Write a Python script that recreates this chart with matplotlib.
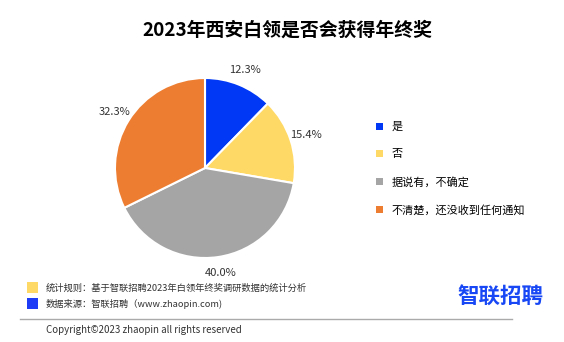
import matplotlib
matplotlib.use("Agg")
import matplotlib.pyplot as plt
from matplotlib.patches import Patch, Rectangle
from matplotlib.lines import Line2D

plt.rcParams['font.family'] = ['Noto Sans CJK SC', 'DejaVu Sans']

# data
categories = ['是', '否', '据说有，不确定', '不清楚，还没收到任何通知']
shares = [12.3, 15.4, 40.0, 32.3]
colors = ['#0038F5', '#FFD966', '#A5A5A5', '#ED7D31']
title = '2023年西安白领是否会获得年终奖'
note_rule = '统计规则：基于智联招聘2023年白领年终奖调研数据的统计分析'
note_src = '数据来源：智联招聘（www.zhaopin.com)'
copyright_txt = 'Copyright©2023 zhaopin all rights reserved'

W, H = 564, 342
fig = plt.figure(figsize=(W / 100, H / 100), dpi=100)

def fx(px):
    return px / W

def fy(py):
    return 1 - py / H

# pie: centre ~ (205,168), radius ~ 90 px
r = 90
ax = fig.add_axes([fx(205 - r), fy(168 + r), 2 * r / W, 2 * r / H])
wedges, texts, autotexts = ax.pie(
    shares, colors=colors, startangle=90, counterclock=False,
    autopct='%.1f%%', pctdistance=1.18,
    wedgeprops=dict(edgecolor='white', linewidth=1.5),
    textprops=dict(fontsize=8, color='#333333'))
ax.set_xlim(-1, 1)
ax.set_ylim(-1, 1)
ax.set_aspect('equal')

handles = [Patch(facecolor=c, edgecolor='none') for c in colors]
fig.legend(handles, categories, loc='upper left',
           bbox_to_anchor=(fx(366), fy(112)), frameon=False,
           fontsize=8, handlelength=0.6, handleheight=0.6,
           handletextpad=0.8, labelspacing=1.55)

fig.text(fx(287), fy(30), title, ha='center', va='center',
         fontsize=13.6, fontweight='bold', color='black')

# footer
fig.patches.append(Rectangle((fx(27), fy(293)), fx(11), 11 / H,
                             facecolor='#FFD966', edgecolor='none',
                             transform=fig.transFigure))
fig.patches.append(Rectangle((fx(27), fy(309)), fx(11), 11 / H,
                             facecolor='#1E3CF5', edgecolor='none',
                             transform=fig.transFigure))
fig.text(fx(46), fy(288), note_rule, ha='left', va='center',
         fontsize=6.7, color='#333333')
fig.text(fx(46), fy(304), note_src, ha='left', va='center',
         fontsize=6.7, color='#333333')
fig.lines.append(Line2D([fx(20), fx(512)], [fy(319), fy(319)],
                        color='#AAAAAA', linewidth=1,
                        transform=fig.transFigure))
fig.text(fx(46), fy(330), copyright_txt, ha='left', va='center',
         fontsize=7, color='#333333')

fig.text(fx(500), fy(296), '智联招聘', ha='center', va='center',
         fontsize=15.5, fontweight='bold', color='#1848F5')

fig.savefig('out.png', dpi=100)
